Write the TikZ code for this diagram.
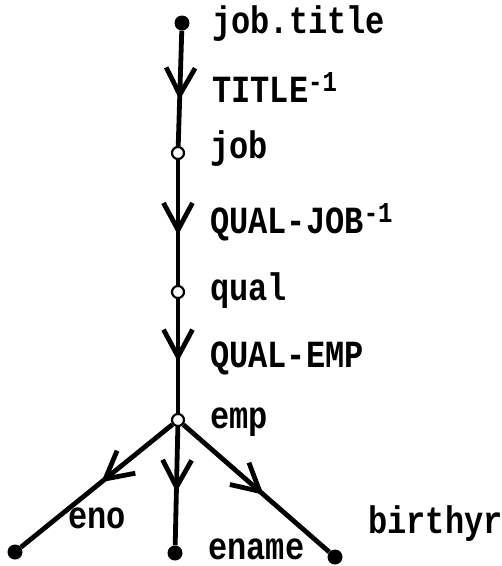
\documentclass[tikz,border=0pt]{standalone}
\usepackage{fontspec}
\setmonofont{Liberation Mono}
\usetikzlibrary{arrows.meta,decorations.markings,backgrounds}
\tikzset{
  lbl/.style={anchor=base west, inner sep=0pt, font=\ttfamily\bfseries\fontsize{32}{32}\selectfont},
  leaf/.style={circle, fill=black, minimum size=15pt, inner sep=0pt},
  mid/.style={circle, draw=black, fill=white, line width=2.2pt, minimum size=12pt, inner sep=0pt},
  edge/.style={line width=4.8pt, postaction={decorate},
    decoration={markings, mark=at position #1 with {\arrow{Straight Barb[length=27pt,width=29pt]}}}},
}
\newcommand{\T}[1]{\scalebox{1}[1.2]{#1}}
\newcommand{\sups}[1]{\raisebox{9pt}{\fontsize{24}{24}\selectfont #1}}
\begin{document}
\begin{tikzpicture}[x=1pt,y=-1pt]
  \useasboundingbox (0,0) rectangle (502,566);
  \node[leaf] (top) at (182,23) {};
  \node[mid] (job) at (178,153) {};
  \node[mid] (qual) at (178,292) {};
  \node[mid] (emp) at (178,420) {};
  \node[leaf] (eno) at (15,552) {};
  \node[leaf] (ename) at (175,553) {};
  \node[leaf] (birthyr) at (335,557) {};

  \node[lbl] (ljt) at (212,33) {\T{job.title}};
  \node[lbl] (lt) at (212,102) {\T{TITLE\sups{-1}}};
  \node[lbl] (lj) at (210,158) {\T{job}};
  \node[lbl] (lqj) at (210,233) {\T{QUAL-JOB\sups{-1}}};
  \node[lbl] (lq) at (210,300) {\T{qual}};
  \node[lbl] (lqe) at (210,367) {\T{QUAL-EMP}};
  \node[lbl] (le) at (210,428) {\T{emp}};
  \node[lbl] (leno) at (68,528) {\T{eno}};
  \node[lbl, text depth=0pt] (lename) at (208,559) {\T{ename}};
  \node[lbl] (lb) at (368,533) {\T{birthyr}};

  \begin{scope}[on background layer]
    \draw[edge=0.6] (top) -- (job);
    \draw[edge=0.6] (job) -- (qual);
    \draw[edge=0.55] (qual) -- (emp);
    \draw[edge=0.47] (emp) -- (eno);
    \draw[edge=0.55] (emp) -- (ename);
    \draw[edge=0.55] (emp) -- (birthyr);
  \end{scope}
\end{tikzpicture}
\end{document}
